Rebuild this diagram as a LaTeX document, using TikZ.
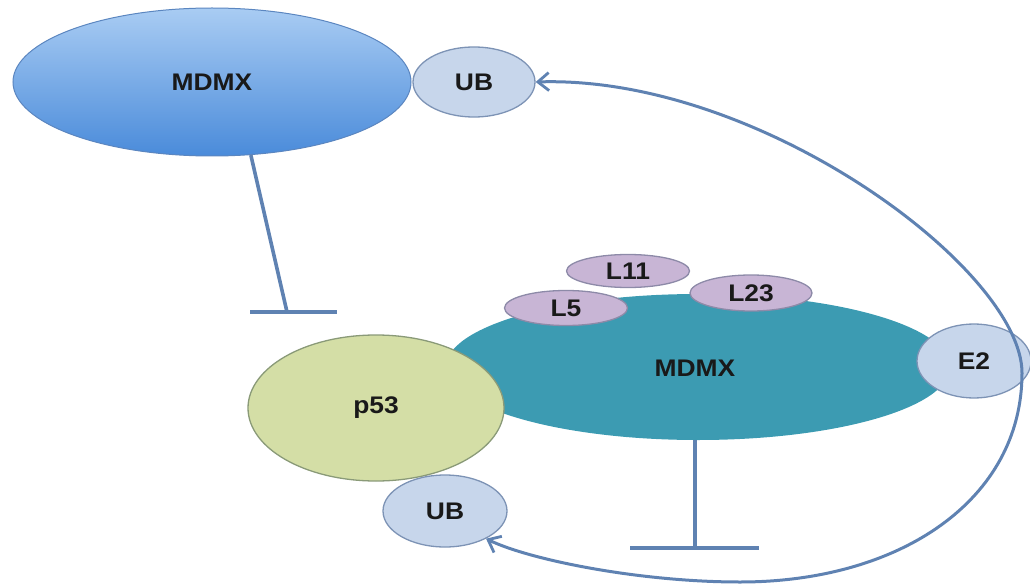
\documentclass[tikz,border=0pt]{standalone}
\usepackage{fontspec}
\setmainfont{Liberation Sans}[FakeStretch=1.1]
\usetikzlibrary{shapes.geometric,arrows.meta}
\definecolor{linec}{HTML}{5F82B2}
\definecolor{ubfill}{HTML}{C7D6EB}
\definecolor{ubdraw}{HTML}{7D93B5}
\definecolor{teal}{HTML}{3C9BB2}
\definecolor{pfill}{HTML}{D4DEA6}
\definecolor{pdraw}{HTML}{8A9A78}
\definecolor{lfill}{HTML}{C8B5D5}
\definecolor{ldraw}{HTML}{8D8AA8}
\definecolor{mtop}{HTML}{A9CCF3}
\definecolor{mbot}{HTML}{4A8BDA}
\definecolor{mdraw}{HTML}{5B86C0}
\tikzset{
  blob/.style={ellipse, inner sep=0pt, font=\fontsize{24}{29}\selectfont\bfseries, text=black!90},
  ubnode/.style={blob, fill=ubfill, draw=ubdraw, line width=1.3pt},
  lnode/.style={blob, fill=lfill, draw=ldraw, line width=1.3pt},
  inhib/.style={draw=linec, line width=3.6pt},
  act/.style={draw=linec, line width=3pt, -{Straight Barb[length=11pt,width=18pt,line width=2.8pt]}},
}
\begin{document}
\begin{tikzpicture}[x=1pt,y=-1pt]
\useasboundingbox (0,0) rectangle (1030,588);
% top MDMX
\node[blob, minimum width=398pt, minimum height=148pt, top color=mtop, bottom color=mbot, draw=mdraw, line width=1pt] (mdmxT) at (212,82) {MDMX};
\node[ubnode, minimum width=122pt, minimum height=70pt] (ubT) at (474,82) {UB};
% teal MDMX
\node[blob, minimum width=504pt, minimum height=146pt, fill=teal] (mdmxB) at (698,367) {};
\node[blob] (mdmxBt) at (695,368) {MDMX};
\node[lnode, minimum width=123pt, minimum height=33pt] (l11) at (628,271) {L11};
\node[lnode, minimum width=123pt, minimum height=35pt] (l5) at (566,308) {L5};
\node[lnode, minimum width=122pt, minimum height=36pt] (l23) at (751,293) {L23};
\node[ubnode, minimum width=114pt, minimum height=74pt] (e2) at (974,361) {E2};
% p53
\node[blob, minimum width=256pt, minimum height=146pt, fill=pfill, draw=pdraw, line width=1.3pt] (p53) at (376,408) {p53};
\node[ubnode, minimum width=124pt, minimum height=72pt] (ubB) at (445,511) {UB};
% inhibition from top MDMX
\coordinate (barT) at (287,312);
\coordinate (barTl) at (250,312);
\coordinate (barTr) at (337,312);
\draw[inhib] (mdmxT.-62) -- (barT);
\draw[inhib] (barTl) -- (barTr);
% inhibition from teal MDMX
\coordinate (barB) at (695,548);
\coordinate (barBl) at (630,548);
\coordinate (barBr) at (759,548);
\draw[inhib] (mdmxB.south -| barB) -- (barB);
\draw[inhib] (barBl) -- (barBr);
% E2 arrows
\coordinate (r) at (1022,373);
\draw[act] (r) .. controls (1022,270) and (760,75) .. (ubT.east);
\draw[act] (r) .. controls (1022,500) and (900,582) .. (740,582)
  .. controls (640,582) and (530,560) .. (ubB.-34);
\end{tikzpicture}
\end{document}
